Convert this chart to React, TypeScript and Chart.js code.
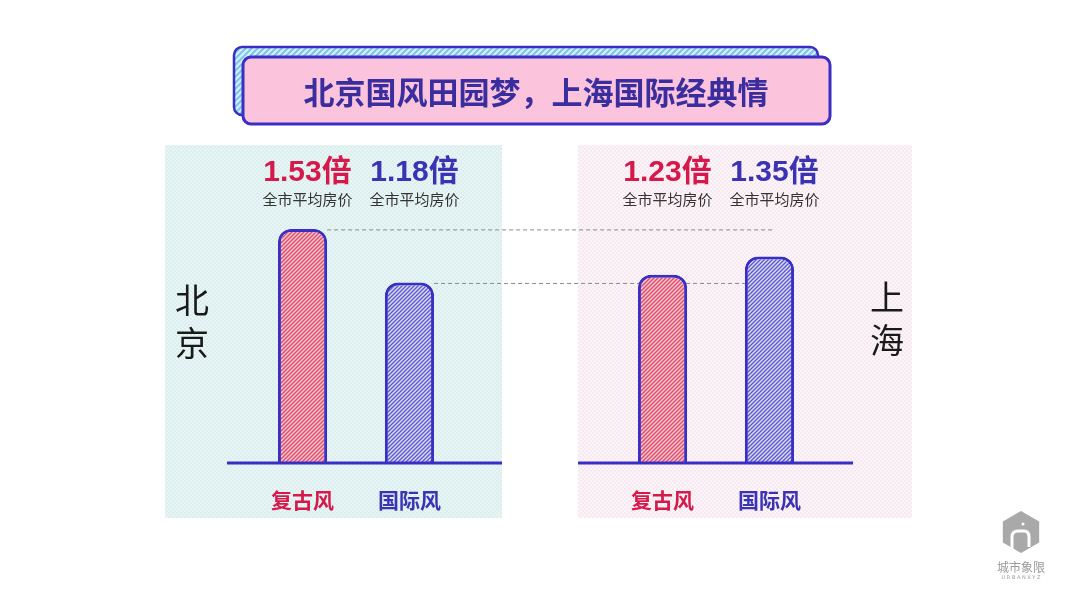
import { useEffect, useRef } from "react";
import { Chart, registerables } from "chart.js";
Chart.register(...registerables);

const title = "北京国风田园梦，上海国际经典情";
const cities = ["北京", "上海"];
const styleNames = ["复古风", "国际风"];
const retroValues = [1.53, 1.23];
const intlValues = [1.18, 1.35];
const subLabel = "全市平均房价";
const logoName = "城市象限";
const logoSub = "URBANXYZ";

const RED = "#d6194b";
const BLUE = "#3b32b4";
const BORDER = "#3a2fc4";
const CJK = '"Noto Sans CJK SC", sans-serif';

function hatch(ctx: CanvasRenderingContext2D, bg: string, fg: string, size = 4, lw = 1.4) {
  const c = document.createElement("canvas");
  c.width = size;
  c.height = size;
  const x = c.getContext("2d")!;
  x.fillStyle = bg;
  x.fillRect(0, 0, size, size);
  x.strokeStyle = fg;
  x.lineWidth = lw;
  x.beginPath();
  x.moveTo(0, size);
  x.lineTo(size, 0);
  x.moveTo(-size / 2, size / 2);
  x.lineTo(size / 2, -size / 2);
  x.moveTo(size / 2, size * 1.5);
  x.lineTo(size * 1.5, size / 2);
  x.stroke();
  return ctx.createPattern(c, "repeat")!;
}

function dots(ctx: CanvasRenderingContext2D, bg: string, fg: string) {
  const c = document.createElement("canvas");
  c.width = 4;
  c.height = 4;
  const x = c.getContext("2d")!;
  x.fillStyle = bg;
  x.fillRect(0, 0, 4, 4);
  x.fillStyle = fg;
  x.fillRect(0, 0, 2, 2);
  x.fillRect(2, 2, 2, 2);
  return ctx.createPattern(c, "repeat")!;
}

export default function App() {
  const ref = useRef<HTMLCanvasElement>(null);
  useEffect(() => {
    const canvas = ref.current!;
    const ctx = canvas.getContext("2d")!;
    const redFill = hatch(ctx, "#f7c4d0", "#dc4f6c");
    const blueFill = hatch(ctx, "#dcdcf6", "#5c5acb");
    const titleShadow = hatch(ctx, "#d6f0fb", "#7cc4ea", 6, 2);
    const leftBg = dots(ctx, "#e9f5f5", "#dcefef");
    const rightBg = dots(ctx, "#fcf5f8", "#f6e9ef");

    const decor = {
      id: "decor",
      beforeDraw(chart: any) {
        const c = chart.ctx as CanvasRenderingContext2D;
        c.save();
        c.fillStyle = "#ffffff";
        c.fillRect(0, 0, chart.width, chart.height);
        // panels
        c.fillStyle = leftBg;
        c.fillRect(165, 145, 337, 373);
        c.fillStyle = rightBg;
        c.fillRect(578, 145, 334, 373);
        // title box
        c.beginPath();
        c.roundRect(234, 47, 584, 68, 8);
        c.fillStyle = titleShadow;
        c.fill();
        c.lineWidth = 2.5;
        c.strokeStyle = BORDER;
        c.stroke();
        c.beginPath();
        c.roundRect(243, 57, 587, 67, 8);
        c.fillStyle = "#fbc3dc";
        c.fill();
        c.lineWidth = 3;
        c.strokeStyle = BORDER;
        c.stroke();
        c.fillStyle = "#3a2e9e";
        c.font = `bold 31px ${CJK}`;
        c.textAlign = "center";
        c.textBaseline = "middle";
        c.fillText(title, 536, 92);
        // city names
        c.fillStyle = "#1a1a1a";
        c.font = `34px ${CJK}`;
        const cityPos = [
          [192, 300],
          [887, 297],
        ];
        cities.forEach((name, i) => {
          const [cx, cy] = cityPos[i];
          [...name].forEach((ch, j) => c.fillText(ch, cx, cy + j * 43));
        });
        // logo
        const hx = 1021, hy = 532, r = 21;
        c.beginPath();
        for (let k = 0; k < 6; k++) {
          const a = Math.PI / 6 + (k * Math.PI) / 3;
          const px = hx + r * Math.cos(a);
          const py = hy + r * Math.sin(a);
          if (k === 0) c.moveTo(px, py);
          else c.lineTo(px, py);
        }
        c.closePath();
        c.fillStyle = "#a9a9a9";
        c.fill();
        c.fillStyle = "#ffffff";
        c.beginPath();
        c.arc(1023, 524, 1.5, 0, Math.PI * 2);
        c.fill();
        c.strokeStyle = "#ffffff";
        c.lineWidth = 3;
        c.beginPath();
        c.moveTo(1012, 552);
        c.lineTo(1012, 537);
        c.quadraticCurveTo(1012, 531, 1018, 531);
        c.lineTo(1024, 531);
        c.quadraticCurveTo(1029, 531, 1029, 537);
        c.lineTo(1029, 547);
        c.stroke();
        c.fillStyle = "#9a9a9a";
        c.font = `12px ${CJK}`;
        c.fillText(logoName, 1021, 567);
        c.font = `5px "DejaVu Sans"`;
        c.fillText(logoSub.split("").join(" "), 1021, 578);
        c.restore();
      },
      beforeDatasetsDraw(chart: any) {
        const c = chart.ctx as CanvasRenderingContext2D;
        const r = chart.getDatasetMeta(0).data;
        const b = chart.getDatasetMeta(1).data;
        c.save();
        c.strokeStyle = "#8a8a8a";
        c.lineWidth = 1;
        c.setLineDash([4, 3]);
        c.beginPath();
        c.moveTo(r[0].x + r[0].width / 2, r[0].y + 1);
        c.lineTo(b[1].x + 4, r[0].y + 1);
        c.moveTo(b[0].x + b[0].width / 2, b[0].y + 1);
        c.lineTo(b[1].x - b[1].width / 2, b[0].y + 1);
        c.stroke();
        c.restore();
      },
      afterDatasetsDraw(chart: any) {
        const c = chart.ctx as CanvasRenderingContext2D;
        const base = chart.scales.y.getPixelForValue(0);
        c.save();
        c.strokeStyle = BORDER;
        c.lineWidth = 3;
        c.beginPath();
        c.moveTo(227, base);
        c.lineTo(502, base);
        c.moveTo(578, base);
        c.lineTo(853, base);
        c.stroke();
        c.textAlign = "center";
        c.textBaseline = "middle";
        const sets = [retroValues, intlValues];
        const colors = [RED, BLUE];
        sets.forEach((vals, di) => {
          const meta = chart.getDatasetMeta(di).data;
          vals.forEach((v, i) => {
            const x = meta[i].x;
            c.fillStyle = colors[di];
            c.font = `bold 30px "Liberation Sans", ${CJK}`;
            c.fillText(`${v.toFixed(2)}倍`, x + 5, 173);
            c.fillStyle = "#333333";
            c.font = `15px ${CJK}`;
            c.fillText(subLabel, x + 5, 199);
            c.fillStyle = colors[di];
            c.font = `bold 21px ${CJK}`;
            c.fillText(styleNames[di], x, 500);
          });
        });
        c.restore();
      },
    };

    const chart = new Chart(canvas, {
      type: "bar",
      data: {
        labels: cities,
        datasets: [
          {
            label: styleNames[0],
            data: retroValues,
            backgroundColor: redFill,
            borderColor: BORDER,
            borderWidth: 3,
            borderSkipped: "bottom",
            borderRadius: { topLeft: 13, topRight: 13, bottomLeft: 0, bottomRight: 0 },
            barPercentage: 0.46,
            categoryPercentage: 0.594,
          },
          {
            label: styleNames[1],
            data: intlValues,
            backgroundColor: blueFill,
            borderColor: BORDER,
            borderWidth: 3,
            borderSkipped: "bottom",
            borderRadius: { topLeft: 13, topRight: 13, bottomLeft: 0, bottomRight: 0 },
            barPercentage: 0.46,
            categoryPercentage: 0.594,
          },
        ],
      },
      options: {
        responsive: false,
        animation: false,
        layout: { padding: { left: 176, right: 184, top: 157, bottom: 145 } },
        plugins: { legend: { display: false }, tooltip: { enabled: false } },
        scales: {
          x: { display: false },
          y: { display: false, min: 0, max: 2 },
        },
      },
      plugins: [decor],
    });
    return () => chart.destroy();
  }, []);
  return (
    <div style={{ position: "fixed", left: 0, top: 0, width: 1080, height: 608, background: "#fff" }}>
      <canvas ref={ref} width={1080} height={608} style={{ display: "block" }} />
    </div>
  );
}
